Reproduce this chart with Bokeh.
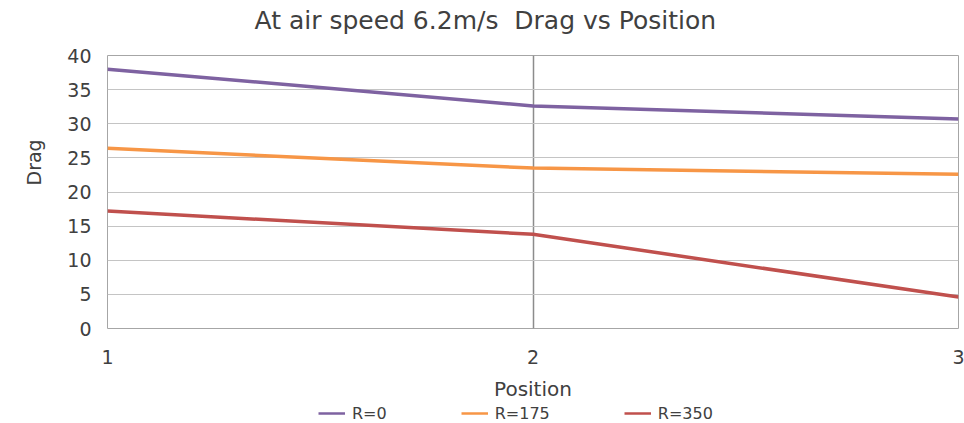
import math
from bokeh.plotting import figure
from bokeh.layouts import column
from bokeh.models import Legend, LegendItem, FixedTicker, Range1d, Title, Label
from bokeh.embed import file_html
from bokeh.resources import INLINE

positions = [1, 2, 3]
drag_r0 = [38.0, 32.6, 30.7]
drag_r175 = [26.4, 23.5, 22.6]
drag_r350 = [17.2, 13.8, 4.6]
series_names = ["R=0", "R=175", "R=350"]
series_colors = ["#7e62a1", "#f79646", "#c0504d"]
x_ticks = [1, 2, 3]
y_ticks = [0, 5, 10, 15, 20, 25, 30, 35, 40]
chart_title = "At air speed 6.2m/s \u00a0Drag vs Position"

FONT = "DejaVu Sans"
TXT = "#404040"
series_values = [drag_r0, drag_r175, drag_r350]

# title strip
ts = figure(width=964, height=40, output_backend="svg", toolbar_location=None,
            x_axis_type=None, y_axis_type=None, min_border=0,
            x_range=Range1d(1, 3), y_range=Range1d(0, 1))
ts.outline_line_color = None
ts.xgrid.visible = False
ts.ygrid.visible = False
ts.add_layout(Label(x=147, y=20, x_units="screen", y_units="screen", text=chart_title,
                    text_font=FONT, text_font_size="25px", text_color=TXT,
                    text_align="left", text_baseline="middle"))

p = figure(width=964, height=363, output_backend="svg", toolbar_location=None,
           x_range=Range1d(1, 3), y_range=Range1d(0, 40),
           min_border_left=105, min_border_right=6, min_border_top=15,
           min_border_bottom=75)
p.background_fill_color = "white"
p.border_fill_color = "white"
p.outline_line_color = "#a6a6a6"
p.outline_line_width = 1

p.xaxis.ticker = FixedTicker(ticks=x_ticks)
p.yaxis.ticker = FixedTicker(ticks=y_ticks)
p.xgrid.ticker = FixedTicker(ticks=x_ticks)
p.ygrid.ticker = FixedTicker(ticks=y_ticks)
p.xgrid.grid_line_color = "#8c8c8c"
p.ygrid.grid_line_color = "#c4c4c4"
p.xgrid.grid_line_width = 1.5
for ax in (p.xaxis, p.yaxis):
    ax.axis_line_color = None
    ax.major_tick_line_color = None
    ax.minor_tick_line_color = None
    ax.major_tick_out = 0
    ax.major_tick_in = 0
    ax.major_label_text_font = FONT
    ax.major_label_text_color = TXT
    ax.major_label_text_font_size = "19px"
    ax.axis_label_text_font = FONT
    ax.axis_label_text_font_style = "normal"
    ax.axis_label_text_color = TXT
p.yaxis.major_label_standoff = 16
p.xaxis.major_label_standoff = 21
p.xaxis.axis_label = "Position"
p.xaxis.axis_label_text_font_size = "20px"
p.xaxis.axis_label_standoff = 10

# y-axis title, placed along the left side like the reference
p.add_layout(Title(text="Drag", align="left", offset=143, standoff=40,
                   text_font=FONT, text_font_style="normal",
                   text_font_size="19px", text_color=TXT), "left")

for ys, c in zip(series_values, series_colors):
    p.line(positions, ys, line_color=c, line_width=3.5)

# legend strip below the chart (its lines lie outside the strip's view)
lg = figure(width=964, height=20, output_backend="svg", toolbar_location=None,
            x_axis_type=None, y_axis_type=None, min_border=0,
            x_range=Range1d(1, 3), y_range=Range1d(-101, -100))
lg.outline_line_color = None
lg.xgrid.visible = False
lg.ygrid.visible = False
lg_renderers = [lg.line(positions, ys, line_color=c, line_width=2.5)
                for ys, c in zip(series_values, series_colors)]
legend = Legend(items=[LegendItem(label=n, renderers=[r]) for n, r in zip(series_names, lg_renderers)],
                orientation="horizontal", location=(211, 0),
                glyph_width=27, glyph_height=20, label_height=20, label_standoff=7,
                spacing=74, padding=0, margin=0,
                border_line_alpha=0, background_fill_alpha=0,
                label_text_font=FONT, label_text_font_size="16px", label_text_color=TXT)
lg.add_layout(legend)

layout = column(ts, p, lg, spacing=0)
open("out.html", "w").write(file_html(layout, INLINE))
